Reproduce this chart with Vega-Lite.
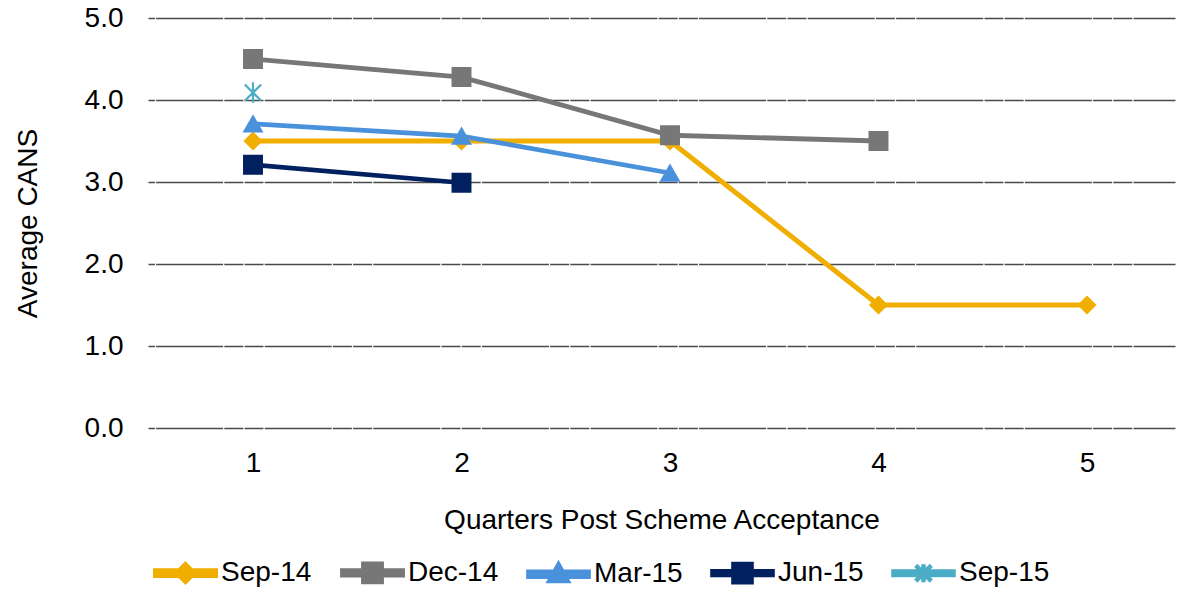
{
  "$schema": "https://vega.github.io/schema/vega-lite/v6.json",
  "autosize": {"type": "none"},
  "padding": {"left": 148, "top": 18, "right": 4, "bottom": 163},
  "width": 1027,
  "height": 410,
  "background": "white",
  "config": {
    "view": {"stroke": null},
    "font": "Liberation Sans",
    "axis": {"labelFont": "Liberation Sans", "titleFont": "Liberation Sans", "labelColor": "#000000", "titleColor": "#000000", "labelFontSize": 28, "titleFontSize": 28, "titleFontWeight": "normal"},
    "legend": {"labelFont": "Liberation Sans", "labelFontSize": 28, "labelColor": "#000000"}
  },
  "data": {
    "values": [
      {"q": 1, "series": "Sep-14", "cans": 3.5},
      {"q": 2, "series": "Sep-14", "cans": 3.5},
      {"q": 3, "series": "Sep-14", "cans": 3.5},
      {"q": 4, "series": "Sep-14", "cans": 1.5},
      {"q": 5, "series": "Sep-14", "cans": 1.5},
      {"q": 1, "series": "Dec-14", "cans": 4.5},
      {"q": 2, "series": "Dec-14", "cans": 4.28},
      {"q": 3, "series": "Dec-14", "cans": 3.57},
      {"q": 4, "series": "Dec-14", "cans": 3.5},
      {"q": 1, "series": "Mar-15", "cans": 3.71},
      {"q": 2, "series": "Mar-15", "cans": 3.56},
      {"q": 3, "series": "Mar-15", "cans": 3.11},
      {"q": 1, "series": "Jun-15", "cans": 3.21},
      {"q": 2, "series": "Jun-15", "cans": 2.99},
      {"q": 1, "series": "Sep-15", "cans": 4.09}
    ]
  },
  "encoding": {
    "x": {
      "field": "q", "type": "quantitative",
      "scale": {"domain": [0.4964, 5.422], "nice": false, "zero": false},
      "axis": {"title": "Quarters Post Scheme Acceptance", "values": [1, 2, 3, 4, 5], "format": "d", "labelAngle": 0, "domain": false, "ticks": false, "grid": false, "labelPadding": 21, "titlePadding": 29}
    },
    "y": {
      "field": "cans", "type": "quantitative",
      "scale": {"domain": [0, 5], "nice": false, "zero": true},
      "axis": {"title": "Average CANS", "values": [0, 1, 2, 3, 4, 5], "format": ".1f", "domain": false, "ticks": false, "grid": true, "gridColor": "#4a4a4a", "gridWidth": 1.4, "gridDash": [67, 1.2, 19, 1.2, 19, 1.2], "gridDashOffset": 101, "labelPadding": 25, "titlePadding": 42}
    },
    "color": {
      "field": "series", "type": "nominal",
      "scale": {"domain": ["Sep-14", "Dec-14", "Mar-15", "Jun-15", "Sep-15"], "range": ["#F0AE00", "#777777", "#4A91DC", "#002060", "#4BACC6"]},
      "legend": {
        "title": null, "orient": "bottom", "direction": "horizontal", "offset": 1, "padding": 5,
        "symbolSize": 3600, "labelOffset": 3, "columnPadding": 20, "symbolStrokeWidth": 1.5,
        "encode": {
          "symbols": {
            "update": {
              "shape": {"signal": "datum.value == 'Sep-14' ? 'M-1,-0.08H1V0.08H-1Z M0,-0.28L0.28,0L0,0.28L-0.28,0Z' : datum.value == 'Dec-14' ? 'M-1,-0.07H1V0.07H-1Z M-0.3,-0.3H0.3V0.3H-0.3Z' : datum.value == 'Mar-15' ? 'M-1,-0.08H1V0.08H-1Z M0,-0.32L0.3,0.22H-0.3Z' : datum.value == 'Jun-15' ? 'M-1,-0.06H1V0.06H-1Z M-0.3,-0.3H0.3V0.3H-0.3Z' : 'M-1,-0.06H1V0.06H-1Z M0,-0.3V0.3M-0.26,-0.26L0.26,0.26M-0.26,0.26L0.26,-0.26'"},
              "fill": {"scale": "color", "field": "value"},
              "stroke": {"scale": "color", "field": "value"},
              "strokeWidth": {"value": 1.5},
              "opacity": {"value": 1}
            }
          }
        }
      }
    }
  },
  "layer": [
    {
      "mark": {"type": "line", "interpolate": "linear"},
      "encoding": {
        "strokeWidth": {
          "field": "series", "type": "nominal",
          "scale": {"domain": ["Sep-14", "Dec-14", "Mar-15", "Jun-15", "Sep-15"], "range": [5, 4.5, 5, 3.5, 4]},
          "legend": null
        }
      }
    },
    {
      "transform": [{"filter": "datum.series == 'Sep-14'"}],
      "mark": {"type": "point", "shape": "diamond", "filled": true, "opacity": 1, "size": 290, "strokeWidth": 1.5, "stroke": "#F0AE00"}
    },
    {
      "transform": [{"filter": "datum.series == 'Dec-14' || datum.series == 'Jun-15'"}],
      "mark": {"type": "point", "shape": "square", "filled": true, "opacity": 1, "size": 340, "strokeWidth": 1.5},
      "encoding": {
        "stroke": {"field": "series", "type": "nominal", "scale": {"domain": ["Sep-14", "Dec-14", "Mar-15", "Jun-15", "Sep-15"], "range": ["#F0AE00", "#777777", "#4A91DC", "#002060", "#4BACC6"]}, "legend": null}
      }
    },
    {
      "transform": [{"filter": "datum.series == 'Mar-15'"}],
      "mark": {"type": "point", "shape": "triangle-up", "filled": true, "opacity": 1, "size": 340, "strokeWidth": 1.5, "stroke": "#4A91DC"}
    },
    {
      "transform": [{"filter": "datum.series == 'Sep-15'"}],
      "mark": {"type": "point", "shape": "M0,-1V1M-0.8,-0.8L0.8,0.8M-0.8,0.8L0.8,-0.8", "filled": false, "opacity": 1, "size": 420, "strokeWidth": 2.2}
    }
  ]
}
